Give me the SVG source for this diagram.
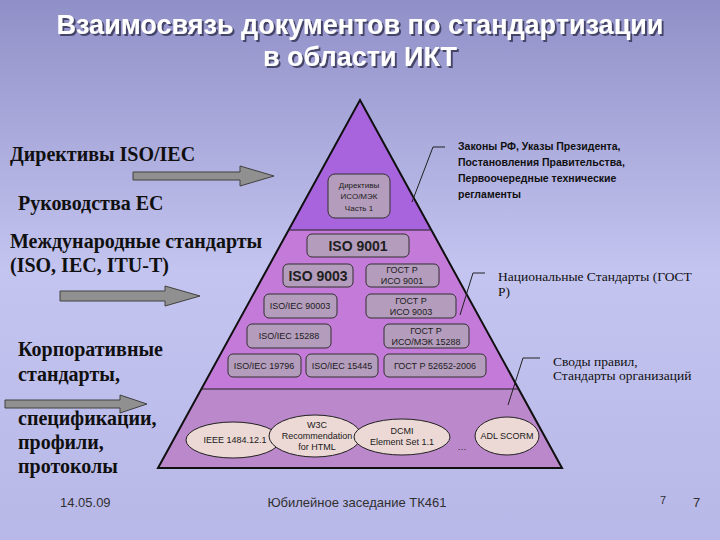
<svg xmlns="http://www.w3.org/2000/svg" width="720" height="540" viewBox="0 0 720 540">
<defs>
<linearGradient id="bg" x1="0" y1="0" x2="0" y2="1"><stop offset="0" stop-color="#9090c8"/><stop offset="0.5" stop-color="#c4c4f0"/><stop offset="1" stop-color="#b8b8e8"/></linearGradient>
<filter id="sh"><feDropShadow dx="2" dy="2" stdDeviation="0.5" flood-color="#303050" flood-opacity="0.8"/></filter>
</defs>
<style>
.box{fill:#b49cbc;stroke:#303030;stroke-width:1}
.ell{fill:#ecd8d4;stroke:#202020;stroke-width:1}
.t{font-family:"Liberation Sans",Arial,sans-serif;font-size:9px;fill:#202020;text-anchor:middle}
.big{font-size:14px;font-weight:bold}
.sm{font-size:8px}
.L{font-family:"Liberation Serif",serif;font-weight:bold;font-size:20px;fill:#101010}
.r{font-family:"Liberation Sans",sans-serif;font-weight:bold;font-size:10.5px;fill:#101010}
.rs{font-family:"Liberation Serif",serif;font-size:13.5px;fill:#101010}
.arr{fill:#909090;stroke:#404040;stroke-width:1}
.cl{fill:none;stroke:#202020;stroke-width:1}
.f{font-family:"Liberation Sans",sans-serif;font-size:13px;fill:#303030}
</style>
<rect width="720" height="540" fill="url(#bg)"/>
<g filter="url(#sh)" font-family="Liberation Sans,Arial,sans-serif" font-weight="bold" font-size="27" fill="#ffffff" text-anchor="middle">
<text x="360" y="34">Взаимосвязь документов по стандартизации</text>
<text x="360" y="66">в области ИКТ</text>
</g>
<g id="pyramid">
<polygon points="360,100 288,230 432,230" fill="#a864dc"/>
<polygon points="288,230 432,230 519,389 201,389" fill="#c47ad8"/>
<polygon points="201,389 519,389 562,468 158,468" fill="#bc88cc"/>
<polygon points="360,100 562,468 158,468" fill="none" stroke="#101010" stroke-width="2"/>
<line x1="288" y1="230" x2="432" y2="230" stroke="#202020"/>
<line x1="201" y1="389" x2="519" y2="389" stroke="#202020"/>
</g>
<g id="nodes">
<g id="n1"><rect class="box" x="328" y="174" width="62" height="44" rx="7"/><text class="t sm" x="359" y="188">Директивы</text><text class="t sm" x="359" y="199">ИСО/МЭК</text><text class="t sm" x="359" y="211">Часть 1</text></g>
<g id="n2"><rect class="box" x="307" y="234" width="102" height="23" rx="5"/><text class="t big" x="358" y="251">ISO 9001</text></g>
<g id="n3"><rect class="box" x="283" y="264" width="70" height="23" rx="5"/><text class="t big" x="318" y="281">ISO 9003</text></g>
<g id="n4"><rect class="box" x="366" y="264" width="73" height="23" rx="5"/><text class="t" x="402" y="273">ГОСТ Р</text><text class="t" x="402" y="284">ИСО 9001</text></g>
<g id="n5"><rect class="box" x="264" y="294" width="73" height="24" rx="5"/><text class="t" x="300" y="309">ISO/IEC 90003</text></g>
<g id="n6"><rect class="box" x="366" y="294" width="90" height="24" rx="5"/><text class="t" x="411" y="304">ГОСТ Р</text><text class="t" x="411" y="315">ИСО 9003</text></g>
<g id="n7"><rect class="box" x="247" y="324" width="84" height="24" rx="5"/><text class="t" x="289" y="339">ISO/IEC 15288</text></g>
<g id="n8"><rect class="box" x="384" y="324" width="85" height="24" rx="5"/><text class="t" x="426" y="334">ГОСТ Р</text><text class="t" x="426" y="345">ИСО/МЭК 15288</text></g>
<g id="n9"><rect class="box" x="228" y="354" width="73" height="23" rx="5"/><text class="t" x="264" y="369">ISO/IEC 19796</text></g>
<g id="n10"><rect class="box" x="306" y="354" width="72" height="23" rx="5"/><text class="t" x="342" y="369">ISO/IEC 15445</text></g>
<g id="n11"><rect class="box" x="384" y="354" width="102" height="23" rx="5"/><text class="t" x="435" y="369">ГОСТ Р 52652-2006</text></g>
<g id="e1"><ellipse class="ell" cx="233" cy="440" rx="47" ry="18"/><text class="t" x="235" y="443">IEEE 1484.12.1</text></g>
<g id="e2"><ellipse class="ell" cx="315" cy="436" rx="46" ry="21"/><text class="t" x="317" y="428">W3C</text><text class="t" x="317" y="439">Recommendation</text><text class="t" x="317" y="450">for HTML</text></g>
<g id="e3"><ellipse class="ell" cx="402" cy="437" rx="48" ry="18"/><text class="t" x="402" y="434">DCMI</text><text class="t" x="402" y="445">Element Set 1.1</text></g>
<g id="e4"><ellipse class="ell" cx="507" cy="436" rx="32" ry="19"/><text class="t" x="507" y="439">ADL SCORM</text></g>
<text class="t" x="462" y="450">…</text>
</g>
<g id="connectors">
<polyline class="cl" points="412,202 433,147 445,147"/>
<polyline class="cl" points="460,315 473,273 485,273"/>
<polyline class="cl" points="508,405 523,358 540,358"/>
<polygon class="arr" points="133,172 240,172 240,166 274,176 240,186 240,180 133,180"/>
<polygon class="arr" points="60,291 165,291 165,286 200,296 165,306 165,301 60,301"/>
<polygon class="arr" points="5,400 120,400 120,395 147,404 120,413 120,408 5,408"/>
</g>
<g id="labels">
<text class="L" x="10" y="161">Директивы ISO/IEC</text>
<text class="L" x="18" y="210">Руководства ЕС</text>
<text class="L" x="10" y="248">Международные стандарты</text>
<text class="L" x="10" y="272">(ISO, IEC, ITU-T)</text>
<text class="L" x="18" y="356">Корпоративные</text>
<text class="L" x="18" y="381">стандарты,</text>
<text class="L" x="18" y="425">спецификации,</text>
<text class="L" x="18" y="449">профили,</text>
<text class="L" x="18" y="473">протоколы</text>
<text class="r" x="458" y="150">Законы РФ, Указы Президента,</text>
<text class="r" x="458" y="166">Постановления Правительства,</text>
<text class="r" x="458" y="182">Первоочередные технические</text>
<text class="r" x="458" y="198">регламенты</text>
<text class="rs" x="498" y="281">Национальные Стандарты (ГОСТ</text>
<text class="rs" x="498" y="296">Р)</text>
<text class="rs" x="553" y="366">Своды правил,</text>
<text class="rs" x="553" y="380">Стандарты организаций</text>
<text class="f" x="60" y="507">14.05.09</text>
<text class="f" x="357" y="507" text-anchor="middle">Юбилейное заседание ТК461</text>
<text class="f" x="660" y="504" style="font-size:11px">7</text>
<text class="f" x="693" y="507">7</text>
</g>
</svg>
